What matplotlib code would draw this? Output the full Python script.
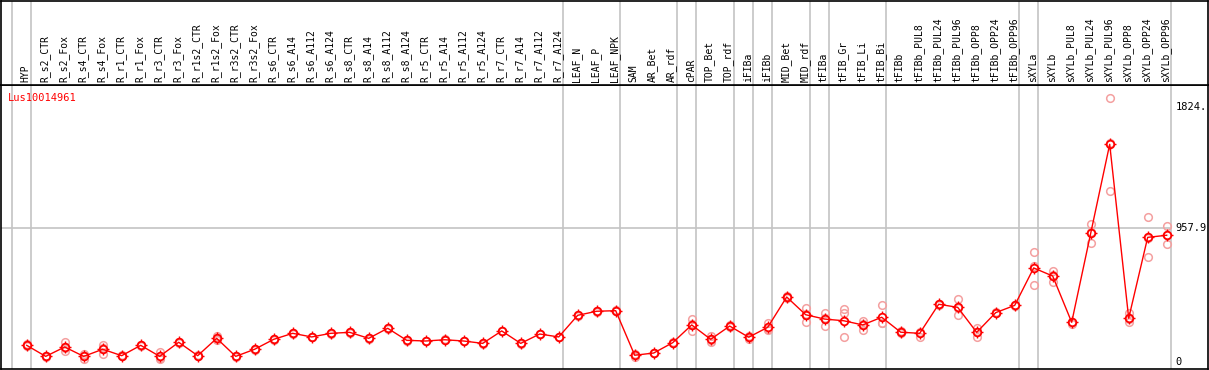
import matplotlib.pyplot as plt
from matplotlib.path import Path
from matplotlib.transforms import blended_transform_factory

gene = 'Lus10014961'

samples = ['HYP', 'R_s2_CTR', 'R_s2_Fox', 'R_s4_CTR', 'R_s4_Fox', 'R_r1_CTR', 'R_r1_Fox',
           'R_r3_CTR', 'R_r3_Fox', 'R_r1s2_CTR', 'R_r1s2_Fox', 'R_r3s2_CTR', 'R_r3s2_Fox',
           'R_s6_CTR', 'R_s6_A14', 'R_s6_A112', 'R_s6_A124', 'R_s8_CTR', 'R_s8_A14',
           'R_s8_A112', 'R_s8_A124', 'R_r5_CTR', 'R_r5_A14', 'R_r5_A112', 'R_r5_A124',
           'R_r7_CTR', 'R_r7_A14', 'R_r7_A112', 'R_r7_A124', 'LEAF_N', 'LEAF_P', 'LEAF_NPK',
           'SAM', 'AR_Bet', 'AR_rdf', 'cPAR', 'TOP_Bet', 'TOP_rdf', 'iFIBa', 'iFIBb',
           'MID_Bet', 'MID_rdf', 'tFIBa', 'tFIB_Gr', 'tFIB_Li', 'tFIB_Bi', 'tFIBb',
           'tFIBb_PUL8', 'tFIBb_PUL24', 'tFIBb_PUL96', 'tFIBb_OPP8', 'tFIBb_OPP24',
           'tFIBb_OPP96', 'sXYLa', 'sXYLb', 'sXYLb_PUL8', 'sXYLb_PUL24', 'sXYLb_PUL96',
           'sXYLb_OPP8', 'sXYLb_OPP24', 'sXYLb_OPP96']

means = [120, 41, 108, 41, 92, 46, 120, 41, 142, 46, 170, 41, 92,
         163, 206, 180, 206, 213, 170, 242, 156, 151, 160, 151, 134,
         223, 134, 201, 180, 335, 364, 368,
         49, 65, 139, 266, 163, 258, 178, 249, 466, 339, 308, 296, 266, 321,
         214, 206, 414, 392, 213, 354, 406,
         674, 616, 285, 922, 1559, 314, 893, 908]

reps = [[130, 112], [39, 43], [146, 79, 100], [58, 20, 45], [122, 56, 98], [44, 48],
        [125, 116], [74, 22, 28], [140, 145], [44, 48], [189, 165, 156], [40, 43], [90, 94],
        [160, 166], [203, 209], [177, 183], [203, 209], [210, 216], [167, 173], [239, 245],
        [153, 159], [148, 154], [157, 163], [148, 154], [131, 137],
        [220, 226], [131, 137], [198, 204], [177, 183], [332, 338], [361, 367], [365, 371],
        [39, 55], [62, 68], [135, 145], [306, 223, 270], [187, 146, 156], [262, 254],
        [190, 165, 180], [278, 230, 240], [470, 462], [387, 285, 345], [349, 258, 318],
        [382, 349, 178], [296, 230, 272], [407, 278, 280],
        [210, 220], [178, 212], [410, 418], [452, 335, 390], [242, 182, 215], [350, 358],
        [402, 410],
        [786, 550, 686], [652, 571, 625], [290, 275], [986, 850, 930], [1888, 1223, 1566],
        [349, 285, 308], [1039, 750, 890], [974, 843, 907]]

# index of the last sample in each group (-1 = left edge line)
group_ends = [-1, 0, 28, 31, 34, 35, 37, 38, 39, 41, 42, 45, 52, 53, 60]

right_ticks = [1824, 957.9, 0]
right_labels = ['1824.', '957.9', '0']

W, H = 1209, 370
fig = plt.figure(figsize=(W / 100, H / 100), dpi=100)
ax = fig.add_axes([1 / W, 1 / H, 1207 / W, 284 / H])
hx = fig.add_axes([1 / W, 285 / H, 1207 / W, 84.5 / H], sharex=ax)

x = list(range(len(samples)))
ax.set_xlim(-1.353, 62.174)
ax.set_ylim(-49.4, 1983.5)
hx.set_ylim(0, 1)

for a in (ax, hx):
    a.set_xticks([])
    a.set_yticks([])
    for s in a.spines.values():
        s.set_linewidth(1.2)
        s.set_color('black')
    for g in group_ends:
        a.axvline(g + 0.23, color='#c4c4c4', lw=1.2, zorder=0)

ax.axhline(957.9, xmax=(60.23 + 1.353) / (62.174 + 1.353), color='#c4c4c4', lw=1.2, zorder=0)

# replicate points
for i, r in enumerate(reps):
    ax.plot([i] * len(r), r, 'o', ms=5.5, mfc='none', mec='#f4a0a0', mew=1.1, zorder=2)

ax.plot(x, means, '-', color='red', lw=1, zorder=3)
ax.plot(x, means, 'o', ms=5.5, mfc='none', mec='red', mew=1.3, zorder=4)

tick_path = Path([(0, 1), (0, 1.4), (0, -1), (0, -1.4), (1, 0), (1.4, 0), (-1, 0), (-1.4, 0)],
                 [Path.MOVETO, Path.LINETO] * 4)
ax.plot(x, means, ls='none', marker=tick_path, ms=8.5, mfc='none', mec='red', mew=1.0, zorder=4)

for i, name in enumerate(samples):
    hx.text(i - 0.05, 0.03, name, rotation=90, ha='center', va='bottom',
            family='DejaVu Sans Mono', fontsize=7)

ax.text(0.006, 0.955, gene, transform=ax.transAxes, color='red',
        family='DejaVu Sans Mono', fontsize=7.5, va='center', ha='left')

tr = blended_transform_factory(ax.transData, ax.transData)
for v, lab in zip(right_ticks, right_labels):
    ax.text(60.45, v, lab, transform=tr, family='DejaVu Sans Mono', fontsize=7.5,
            va='center', ha='left')

fig.savefig('out.png', dpi=100)
